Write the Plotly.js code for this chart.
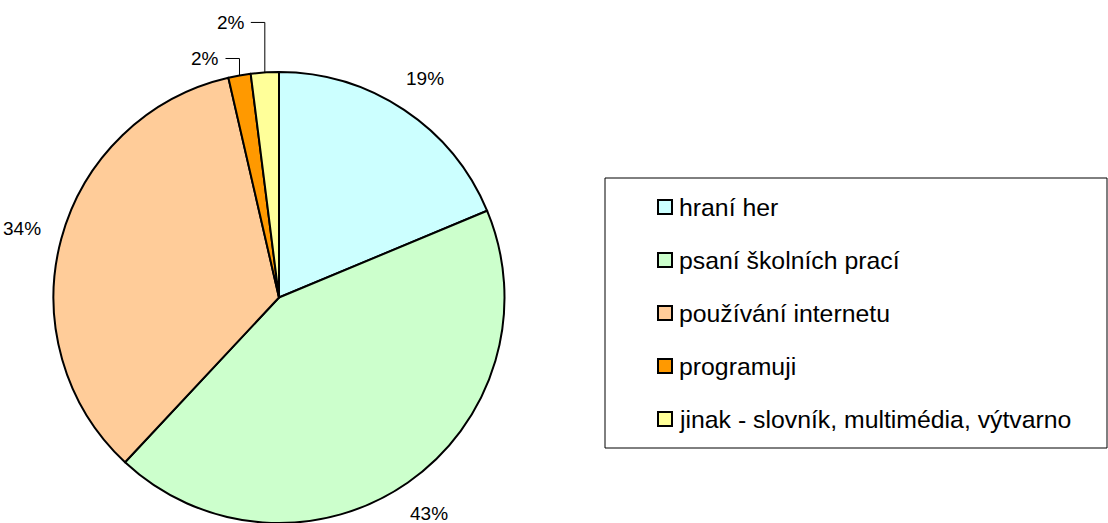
<!DOCTYPE html>
<html>
<head>
<meta charset="utf-8">
<script src="https://cdn.plot.ly/plotly-3.0.1.min.js"></script>
<style>html,body{margin:0;padding:0;background:#fff;}#chart{width:1108px;height:523px;}</style>
</head>
<body>
<div id="chart"></div>
<script>
const labels = ["hraní her", "psaní školních prací", "používání internetu", "programuji", "jinak - slovník, multimédia, výtvarno"];
const values = [18.7, 43.2, 34.4, 1.6, 2.0];
const colors = ["#CCFFFF", "#CCFFCC", "#FFCC99", "#FF9900", "#FFFF99"];

const W = 1108, H = 523;
const cx = 279, cy = 297.5, r = 225.5;
const FONT = "Arial, 'Liberation Sans', sans-serif";
const px = x => x / W, py = y => 1 - y / H;

const total = values.reduce((a, b) => a + b, 0);
const annotations = [];
const shapes = [];

// percentage labels
let cum = 0, smallIdx = 0;
const lifts = [17, 50];
values.forEach((v, i) => {
  const frac = v / total;
  const mid = (cum + frac / 2) * 2 * Math.PI;
  cum += frac;
  const txt = Math.round(frac * 100) + "%";
  const s = Math.sin(mid), c = Math.cos(mid);
  if (frac >= 0.03) {
    const hw = 19, hh = 8, pad = 20;
    const d = r + pad + Math.abs(hw * s) + Math.abs(hh * c);
    annotations.push({x: px(cx + d * s), y: py(cy - d * c), xref: "paper", yref: "paper",
      text: txt, showarrow: false, xanchor: "center", yanchor: "middle",
      font: {family: FONT, size: 19, color: "#000"}});
  } else {
    const ex = cx + r * s, ey = cy - r * c;
    const ly = ey - lifts[smallIdx++];
    const hx = ex - 14;
    shapes.push({type: "path", xref: "paper", yref: "paper",
      path: `M ${px(ex)} ${py(ey)} L ${px(ex)} ${py(ly)} L ${px(hx)} ${py(ly)}`,
      line: {color: "#000", width: 1}});
    annotations.push({x: px(hx - 4), y: py(ly), xref: "paper", yref: "paper",
      text: txt, showarrow: false, xanchor: "right", yanchor: "middle",
      font: {family: FONT, size: 19, color: "#000"}});
  }
});

// legend (drawn from the label/color arrays)
const lgL = 605, lgT = 178, lgR = 1107, lgB = 448;
shapes.push({type: "rect", xref: "paper", yref: "paper", x0: px(lgL), x1: px(lgR), y0: py(lgB), y1: py(lgT),
  line: {color: "#000", width: 1}, fillcolor: "rgba(0,0,0,0)"});
labels.forEach((lab, i) => {
  const yc = 207 + i * 53;
  shapes.push({type: "rect", xref: "paper", yref: "paper", x0: px(658), x1: px(672), y0: py(yc + 7), y1: py(yc - 7),
    line: {color: "#000", width: 2}, fillcolor: colors[i]});
  annotations.push({x: px(677), y: py(yc), xref: "paper", yref: "paper", text: lab, showarrow: false,
    xanchor: "left", yanchor: "middle", font: {family: FONT, size: 24.8, color: "#000"}});
});

const data = [{
  type: "pie", labels: labels, values: values, sort: false, direction: "clockwise", rotation: 0,
  marker: {colors: colors, line: {color: "#000", width: 2}},
  textinfo: "none", hoverinfo: "label+percent", showlegend: false,
  domain: {x: [px(cx - r), px(cx + r)], y: [0, py(cy - r)]}
}];

const layout = {
  width: W, height: H, margin: {l: 0, r: 0, t: 0, b: 0},
  paper_bgcolor: "#fff", plot_bgcolor: "#fff", showlegend: false,
  annotations: annotations, shapes: shapes, font: {family: FONT}
};
Plotly.newPlot("chart", data, layout, {displayModeBar: false, staticPlot: true});
</script>
</body>
</html>
